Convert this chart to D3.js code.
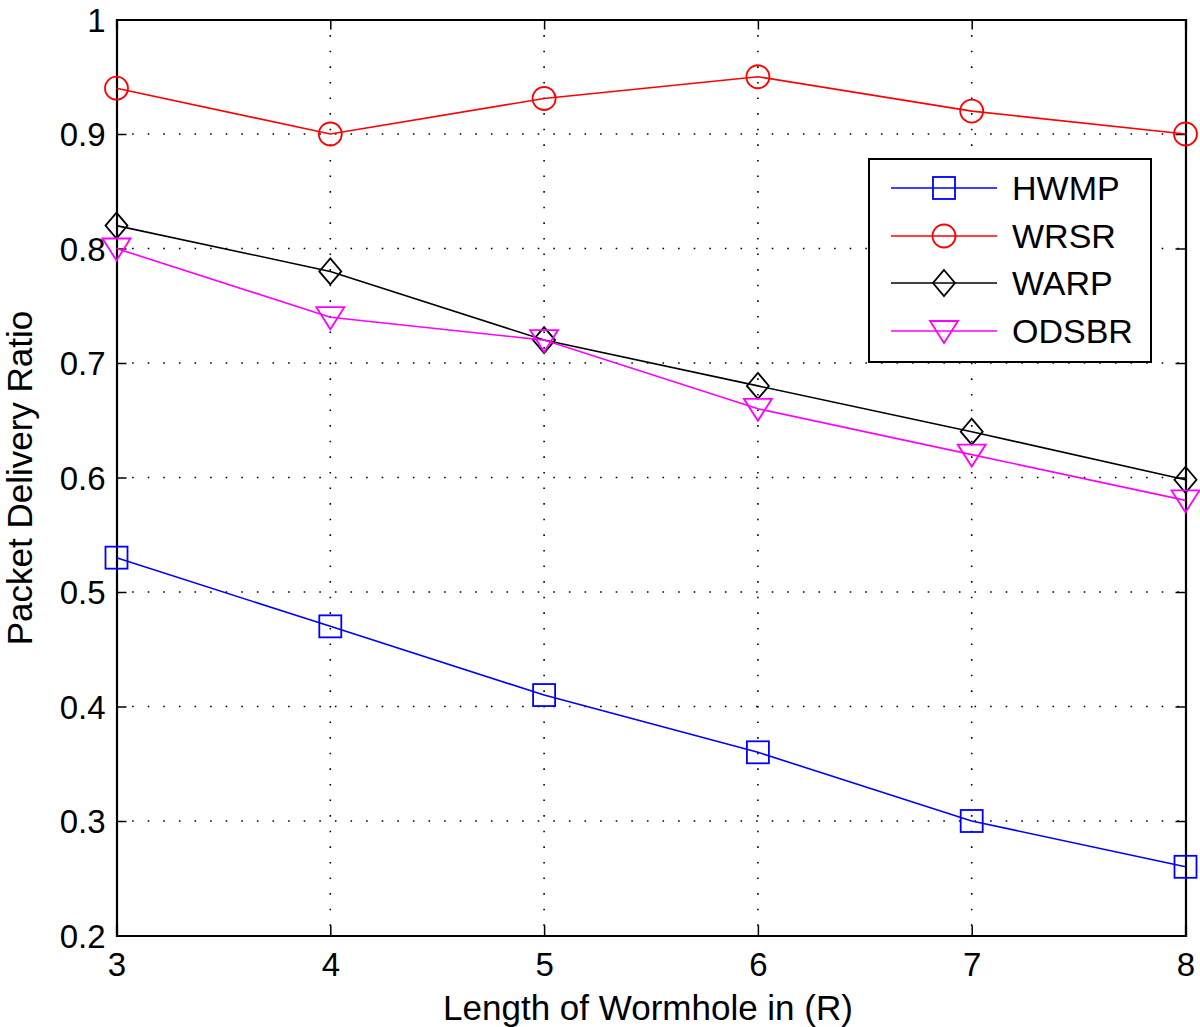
<!DOCTYPE html>
<html><head><meta charset="utf-8">
<script src="https://cdn.jsdelivr.net/npm/d3@7"></script>
<style>body{margin:0;background:#fff;} text{font-family:"Liberation Sans",Arial,sans-serif;fill:#000;}</style>
</head><body>
<svg id="c" width="1200" height="1027"></svg>
<script>
const xValues = [3, 4, 5, 6, 7, 8];
const hwmp  = [0.53, 0.47, 0.41, 0.36, 0.30, 0.26];
const wrsr  = [0.94, 0.90, 0.931, 0.95, 0.92, 0.90];
const warp  = [0.82, 0.78, 0.72, 0.68, 0.64, 0.598];
const odsbr = [0.80, 0.74, 0.72, 0.66, 0.62, 0.58];
const seriesNames = ["HWMP", "WRSR", "WARP", "ODSBR"];
const xTicks = [3, 4, 5, 6, 7, 8];
const yTicks = [0.2, 0.3, 0.4, 0.5, 0.6, 0.7, 0.8, 0.9, 1];
const xLabel = "Length of Wormhole in (R)";
const yLabel = "Packet Delivery Ratio";

const series = [
  {name: seriesNames[0], values: hwmp, color: "#0000ff", marker: "square"},
  {name: seriesNames[1], values: wrsr, color: "#ff0000", marker: "circle"},
  {name: seriesNames[2], values: warp, color: "#000000", marker: "diamond"},
  {name: seriesNames[3], values: odsbr, color: "#ff00ff", marker: "triangle"}
];

const L = 116.5, R = 1185.5, T = 19.5, B = 935.5;
const svg = d3.select("#c");
const x = d3.scaleLinear().domain([3, 8]).range([L, R]);
const y = d3.scaleLinear().domain([0.2, 1]).range([B, T]);

// grid
const g = svg.append("g");
g.selectAll(".gx").data(xTicks.slice(1, -1)).enter().append("line")
  .attr("x1", d => x(d)).attr("x2", d => x(d)).attr("y1", T).attr("y2", B)
  .attr("stroke", "#000").attr("stroke-width", 1.6).attr("stroke-dasharray", "1.6,14");
g.selectAll(".gy").data(yTicks.slice(1, -1)).enter().append("line")
  .attr("x1", L).attr("x2", R).attr("y1", d => y(d)).attr("y2", d => y(d))
  .attr("stroke", "#000").attr("stroke-width", 1.6).attr("stroke-dasharray", "1.6,14");

// axes (inward ticks)
const fmt = d => (d === 1 ? "1" : d3.format(".1f")(d));
const ax = svg.append("g").attr("transform", `translate(0,${B})`)
  .call(d3.axisBottom(x).tickValues(xTicks).tickSize(-10).tickPadding(16).tickFormat(d3.format("d")));
const ax2 = svg.append("g").attr("transform", `translate(0,${T})`)
  .call(d3.axisTop(x).tickValues(xTicks).tickSize(-10).tickFormat(""));
const ay = svg.append("g").attr("transform", `translate(${L},0)`)
  .call(d3.axisLeft(y).tickValues(yTicks).tickSize(-10).tickPadding(11).tickFormat(fmt));
const ay2 = svg.append("g").attr("transform", `translate(${R},0)`)
  .call(d3.axisRight(y).tickValues(yTicks).tickSize(-10).tickFormat(""));
[ax, ax2, ay, ay2].forEach(a => {
  a.attr("font-family", null).attr("font-size", null);
  a.select(".domain").attr("stroke", "#000").attr("stroke-width", 2.2);
  a.selectAll(".tick line").attr("stroke", "#000").attr("stroke-width", 1.5);
  a.selectAll("text").attr("font-size", 33).attr("fill", "#000");
});
ax.selectAll("text").attr("dy", null).attr("y", 40);
ay.selectAll("text").attr("dy", "0.36em");

// markers
function drawMarker(sel, type, color) {
  if (type === "square") {
    sel.append("rect").attr("x", -11).attr("y", -11).attr("width", 22).attr("height", 22)
      .attr("fill", "none").attr("stroke", color).attr("stroke-width", 1.8);
  } else if (type === "circle") {
    sel.append("circle").attr("r", 11.5).attr("fill", "none").attr("stroke", color).attr("stroke-width", 1.8);
  } else if (type === "diamond") {
    sel.append("path").attr("d", "M0,-13 L11,0 L0,13 L-11,0 Z")
      .attr("fill", "none").attr("stroke", color).attr("stroke-width", 1.8);
  } else if (type === "triangle") {
    sel.append("path").attr("d", "M-14,-10 L14,-10 L0,12 Z")
      .attr("fill", "none").attr("stroke", color).attr("stroke-width", 1.8);
  }
}

const line = d3.line().x((d, i) => x(xValues[i])).y(d => y(d));
series.forEach(s => {
  svg.append("path").datum(s.values).attr("d", line)
    .attr("fill", "none").attr("stroke", s.color).attr("stroke-width", 1.6);
  s.values.forEach((v, i) => {
    const m = svg.append("g").attr("transform", `translate(${x(xValues[i])},${y(v)})`);
    drawMarker(m, s.marker, s.color);
  });
});

// legend
const lg = svg.append("g");
lg.append("rect").attr("x", 869).attr("y", 159).attr("width", 282).attr("height", 203)
  .attr("fill", "#fff").attr("stroke", "#000").attr("stroke-width", 2);
const rowY = [188, 236, 283, 331];
series.forEach((s, i) => {
  const ry = rowY[i];
  lg.append("line").attr("x1", 891).attr("x2", 997).attr("y1", ry).attr("y2", ry)
    .attr("stroke", s.color).attr("stroke-width", 1.6);
  drawMarker(lg.append("g").attr("transform", `translate(944,${ry})`), s.marker, s.color);
  lg.append("text").attr("x", 1012).attr("y", ry).attr("dy", "0.36em")
    .attr("font-size", 34).text(s.name);
});

// axis labels
svg.append("text").attr("x", 648).attr("y", 1020).attr("text-anchor", "middle")
  .attr("font-size", 35).text(xLabel);
svg.append("text").attr("transform", `translate(32,${478}) rotate(-90)`)
  .attr("text-anchor", "middle").attr("font-size", 35).text(yLabel);
</script>
</body></html>
